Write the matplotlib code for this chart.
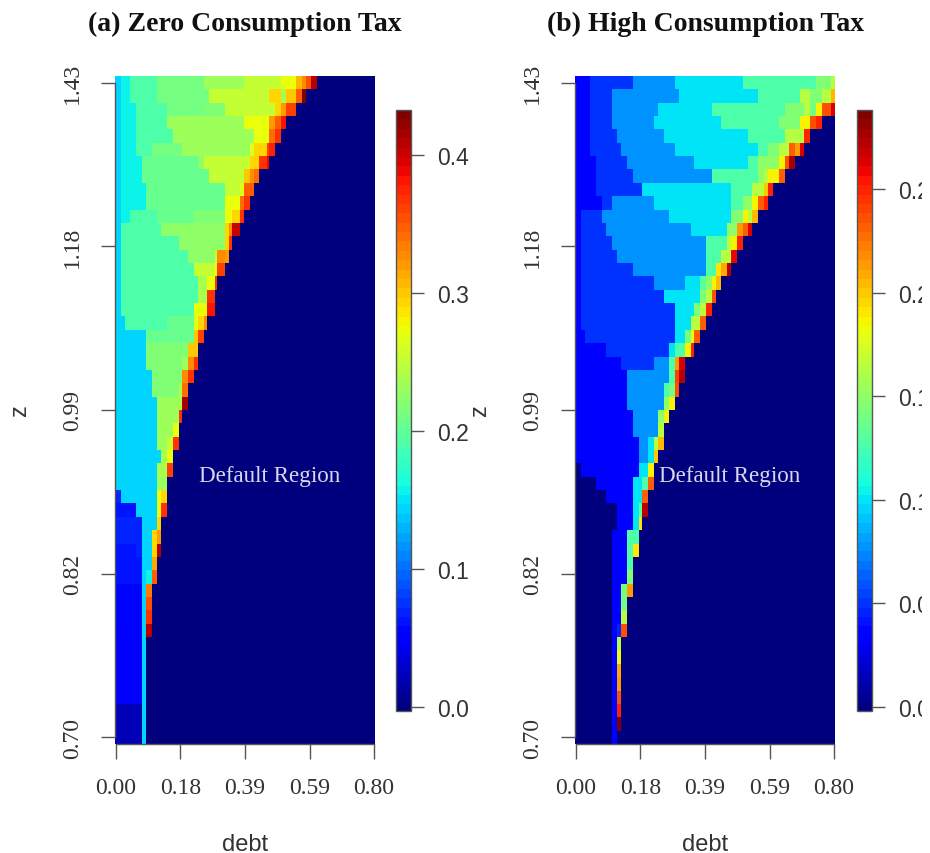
import matplotlib
matplotlib.use("Agg")
import matplotlib.pyplot as plt
import numpy as np
from matplotlib.transforms import Bbox

# grid size of the value function images
n_debt = 135
n_z = 50

debt_labels = ["0.00", "0.18", "0.39", "0.59", "0.80"]
z_labels = ["0.70", "0.82", "0.99", "1.18", "1.43"]

# each row (top z to bottom z): column where a run ends, and the value of that run
# anything right of the last run is the default region (0)
a_ends = [
    [3, 8, 22, 46, 67, 86, 94, 97, 99, 102, 105],
    [3, 8, 22, 49, 80, 86, 89, 94, 97, 99],
    [3, 11, 27, 46, 57, 83, 86, 89, 94],
    [3, 11, 27, 67, 80, 83, 86, 89],
    [3, 11, 30, 72, 80, 83, 86],
    [3, 11, 19, 35, 70, 72, 79, 80, 83],
    [3, 14, 43, 46, 70, 75, 79, 80],
    [3, 14, 49, 67, 70, 72, 75],
    [3, 16, 57, 65, 67, 72],
    [3, 16, 57, 65, 67, 70],
    [3, 8, 22, 41, 57, 61, 65, 67],
    [3, 24, 57, 59, 61, 65],
    [3, 33, 57, 59, 61],
    [3, 38, 52, 53, 57, 59],
    [3, 41, 52, 53, 57],
    [3, 43, 48, 52, 53],
    [3, 43, 48, 52],
    [3, 41, 48, 52],
    [5, 27, 41, 43, 46, 48],
    [16, 41, 43, 46],
    [16, 38, 43],
    [16, 35, 38, 41, 43],
    [19, 35, 38, 41],
    [19, 33, 35, 38],
    [22, 33, 35, 38],
    [22, 33, 35],
    [22, 30, 33],
    [22, 27, 30, 33],
    [24, 27, 30],
    [22, 27, 30],
    [22, 27],
    [3, 22, 24, 27],
    [11, 22, 24, 27],
    [14, 22, 24],
    [14, 19, 22, 24],
    [11, 14, 19, 22, 24],
    [14, 19, 22],
    [14, 16, 19, 22],
    [14, 16, 19],
    [14, 16, 19],
    [14, 16, 19],
    [5, 14, 16, 19],
    [14, 16],
    [14, 16],
    [14, 16],
    [14, 16],
    [14, 16],
    [14, 16],
    [14, 16],
    [14, 16],
]
a_vals = [
    [.14, .155, .19, .21, .235, .25, .27, .31, .325, .355, .41],
    [.14, .155, .19, .21, .25, .295, .24, .30, .35, .43],
    [.14, .155, .19, .21, .215, .25, .29, .32, .36],
    [.14, .155, .19, .235, .27, .32, .345, .38],
    [.14, .155, .19, .235, .27, .34, .37],
    [.14, .155, .19, .21, .235, .265, .295, .36, .375],
    [.14, .155, .205, .225, .25, .295, .37, .39],
    [.14, .155, .205, .25, .30, .33, .34],
    [.14, .155, .205, .25, .265, .345],
    [.14, .155, .205, .27, .34, .37],
    [.14, .155, .19, .205, .22, .27, .29, .37],
    [.14, .19, .225, .29, .33, .40],
    [.14, .19, .225, .29, .37],
    [.14, .19, .225, .25, .33, .32],
    [.14, .19, .25, .27, .36],
    [.14, .19, .24, .27, .37],
    [.14, .19, .24, .365],
    [.14, .19, .27, .38],
    [.14, .19, .205, .265, .29, .33],
    [.14, .205, .30, .36],
    [.14, .215, .30],
    [.14, .215, .235, .33, .37],
    [.14, .215, .33, .365],
    [.14, .215, .24, .34],
    [.14, .235, .24, .415],
    [.14, .235, .37],
    [.14, .235, .27],
    [.14, .235, .25, .37],
    [.14, .24, .27],
    [.14, .24, .36],
    [.14, .235],
    [.07, .14, .27, .29],
    [.06, .14, .27, .37],
    [.07, .14, .29],
    [.07, .14, .295, .32],
    [.06, .07, .14, .29, .41],
    [.06, .14, .315],
    [.06, .14, .155, .35],
    [.055, .14, .335],
    [.055, .14, .355],
    [.055, .14, .37],
    [.045, .055, .14, .41],
    [.045, .14],
    [.045, .14],
    [.045, .14],
    [.045, .14],
    [.045, .14],
    [.02, .14],
    [.02, .14],
    [.02, .14],
]

b_ends = [
    [8, 30, 52, 87, 125, 133, 135],
    [8, 19, 54, 95, 117, 122, 128, 133, 135],
    [8, 19, 43, 71, 109, 119, 122, 125, 128, 133, 135],
    [8, 19, 41, 76, 106, 117, 122, 125, 128],
    [8, 22, 46, 90, 109, 119, 122],
    [8, 24, 52, 95, 100, 106, 111, 114, 117, 119],
    [11, 27, 62, 90, 95, 106, 109, 111, 114],
    [11, 30, 71, 95, 98, 100, 106, 109],
    [11, 35, 81, 92, 98, 100, 103],
    [14, 19, 41, 81, 87, 92, 95, 98, 100],
    [3, 14, 49, 81, 87, 90, 92, 95],
    [3, 16, 60, 79, 84, 87, 90, 92],
    [3, 19, 68, 79, 81, 84, 87],
    [3, 22, 68, 76, 81, 84],
    [3, 30, 68, 73, 76, 79, 81],
    [3, 41, 57, 65, 68, 71, 73, 76],
    [3, 46, 65, 68, 71, 73],
    [3, 52, 62, 65, 68, 71],
    [3, 52, 60, 65, 68],
    [5, 52, 57, 60, 62, 65],
    [16, 49, 52, 57, 60, 62],
    [24, 41, 49, 52, 54, 57, 60],
    [27, 49, 52, 54, 57],
    [27, 46, 49, 52, 54],
    [27, 46, 49, 52],
    [30, 43, 46, 49],
    [30, 43, 46],
    [33, 38, 41, 43, 46],
    [33, 38, 41, 43],
    [3, 33, 38, 41],
    [11, 30, 35, 38, 41],
    [16, 30, 35, 38],
    [22, 30, 33, 35, 38],
    [22, 30, 33, 35],
    [19, 27, 33],
    [19, 27, 30, 33],
    [19, 27, 30],
    [19, 27, 30],
    [19, 24, 27, 30],
    [19, 24, 27],
    [19, 24, 27],
    [19, 22, 24, 27],
    [19, 22, 24],
    [19, 22, 24],
    [19, 22, 24],
    [19, 22, 24],
    [19, 22, 24],
    [19, 22, 24],
    [19, 22, 24],
    [19, 22],
]
b_vals = [
    [.03, .048, .078, .101, .125, .145, .165],
    [.03, .048, .078, .101, .125, .165, .145, .165, .205],
    [.03, .048, .078, .101, .125, .145, .165, .14, .185, .235, .265],
    [.03, .048, .078, .101, .125, .145, .185, .235, .25],
    [.03, .048, .078, .101, .125, .165, .25],
    [.03, .048, .078, .101, .125, .145, .165, .23, .215, .265],
    [.03, .048, .078, .101, .125, .15, .185, .235, .275],
    [.03, .048, .078, .125, .15, .165, .185, .23],
    [.03, .048, .101, .125, .165, .20, .25],
    [.03, .048, .078, .101, .125, .15, .185, .23, .25],
    [.03, .048, .078, .101, .145, .185, .165, .205],
    [.03, .048, .078, .101, .15, .215, .23, .265],
    [.03, .048, .078, .125, .165, .185, .25],
    [.03, .048, .078, .125, .165, .26],
    [.03, .048, .078, .125, .19, .21, .27],
    [.03, .048, .078, .101, .13, .15, .185, .205],
    [.03, .048, .101, .145, .165, .235],
    [.03, .048, .101, .145, .165, .25],
    [.03, .048, .101, .165, .23],
    [.03, .048, .101, .14, .18, .23],
    [.03, .048, .10, .125, .185, .25],
    [.03, .048, .078, .125, .215, .265],
    [.03, .078, .125, .24, .27],
    [.03, .078, .125, .14, .235],
    [.03, .078, .15, .185],
    [.03, .078, .15, .185],
    [.03, .078, .165],
    [.03, .078, .101, .165, .205],
    [.03, .078, .101, .20],
    [0, .03, .101, .185],
    [0, .03, .101, .125, .23],
    [0, .03, .101, .23],
    [0, .03, .101, .13, .27],
    [0, .03, .101, .19],
    [0, .03, .125],
    [0, .03, .125, .19],
    [0, .03, .125],
    [0, .03, .145],
    [0, .03, .14, .215],
    [0, .03, .14],
    [0, .03, .165],
    [0, .03, .045, .235],
    [0, .03, .165],
    [0, .03, .18],
    [0, .03, .21],
    [0, .03, .215],
    [0, .03, .235],
    [0, .03, .25],
    [0, .03, .285],
    [0, .03],
]

a_lim = (-0.003, 0.4326)
b_lim = (-0.002, 0.2881)
a_ticks = [0.0, 0.1, 0.2, 0.3, 0.4]
b_ticks = [0.0, 0.05, 0.10, 0.15, 0.20, 0.25]
a_tick_labels = ["0.0", "0.1", "0.2", "0.3", "0.4"]
b_tick_labels = ["0.00", "0.05", "0.10", "0.15", "0.20", "0.25"]


def build_grid(ends, vals):
    grid = np.zeros((n_z, n_debt))
    for i in range(n_z):
        start = 0
        for end, val in zip(ends[i], vals[i]):
            grid[i, start:end] = val
            start = end
    return grid


W, H = 930, 854
fig = plt.figure(figsize=(W / 100, H / 100), dpi=100)
serif = "Liberation Serif"
sans = "Liberation Sans"
grey = "#333333"


def px_axes(x0, x1, y0, y1):
    return fig.add_axes([x0 / W, 1 - y1 / H, (x1 - x0) / W, (y1 - y0) / H])


def draw_panel(x0, cx0, ends, vals, lim, ticks, tick_labels, title, z_x, clip_x):
    ax = px_axes(x0, x0 + 260, 77, 745)
    cmap = plt.get_cmap("jet", 64)
    im = ax.imshow(build_grid(ends, vals), cmap=cmap, vmin=lim[0], vmax=lim[1],
                   aspect="auto", interpolation="nearest")

    # R style axes, the line only goes from first to last tick
    for name in ["top", "right"]:
        ax.spines[name].set_visible(False)
    ax.spines["left"].set_bounds(0, n_z - 1)
    ax.spines["bottom"].set_bounds(0, n_debt - 1)
    for name in ["left", "bottom"]:
        ax.spines[name].set_color("#555555")
        ax.spines[name].set_linewidth(1.0)

    ax.set_xticks(np.linspace(0, n_debt - 1, 5))
    ax.set_xticklabels(debt_labels, family=serif, fontsize=17, color=grey)
    ax.set_yticks(np.linspace(0, n_z - 1, 5))
    ax.set_yticklabels(z_labels[::-1], family=serif, fontsize=17, color=grey,
                       rotation=90, va="center")
    ax.tick_params(axis="x", length=10.8, width=1, color="#555555", pad=13)
    ax.tick_params(axis="y", length=10, width=1, color="#555555", pad=13)

    fig.text((x0 + 130) / W, 1 - 24 / H, title, family=serif, fontweight="bold",
             fontsize=20, color="#111111", ha="center", va="center")
    fig.text(z_x / W, 1 - 410 / H, "z", family=sans, fontsize=17, color=grey,
             rotation=90, ha="center", va="center")
    fig.text((x0 + 130) / W, 1 - 845 / H, "debt", family=sans, fontsize=17,
             color=grey, ha="center", va="center")
    # default region label, placed in grid coordinates
    ax.text(155 / (260 / n_debt) - 0.5, (477 - 77) / (668 / n_z) - 0.5,
            "Default Region", family=serif, fontsize=16.6, color="#d8d8e8",
            ha="center", va="center")

    cax = px_axes(cx0, cx0 + 15, 111, 712)
    cb = fig.colorbar(im, cax=cax)
    cb.set_ticks(ticks)
    cb.set_ticklabels(tick_labels)
    cb.outline.set_edgecolor("#555555")
    cb.outline.set_linewidth(1.0)
    cax.tick_params(length=9.6, width=1, color="#555555", pad=9, labelsize=16.5,
                    labelcolor=grey)
    # the labels of the right colorbar run off the page in the original
    clip = Bbox([[0, 0], [clip_x, H]])
    for lab in cax.get_yticklabels():
        lab.set_family(sans)
        lab.set_clip_on(True)
        lab.set_clip_box(clip)
    return ax


draw_panel(115, 396, a_ends, a_vals, a_lim, a_ticks, a_tick_labels,
           "(a) Zero Consumption Tax", 20, W)
draw_panel(575, 857, b_ends, b_vals, b_lim, b_ticks, b_tick_labels,
           "(b) High Consumption Tax", 480, 922)

fig.savefig("out.png", dpi=100)
